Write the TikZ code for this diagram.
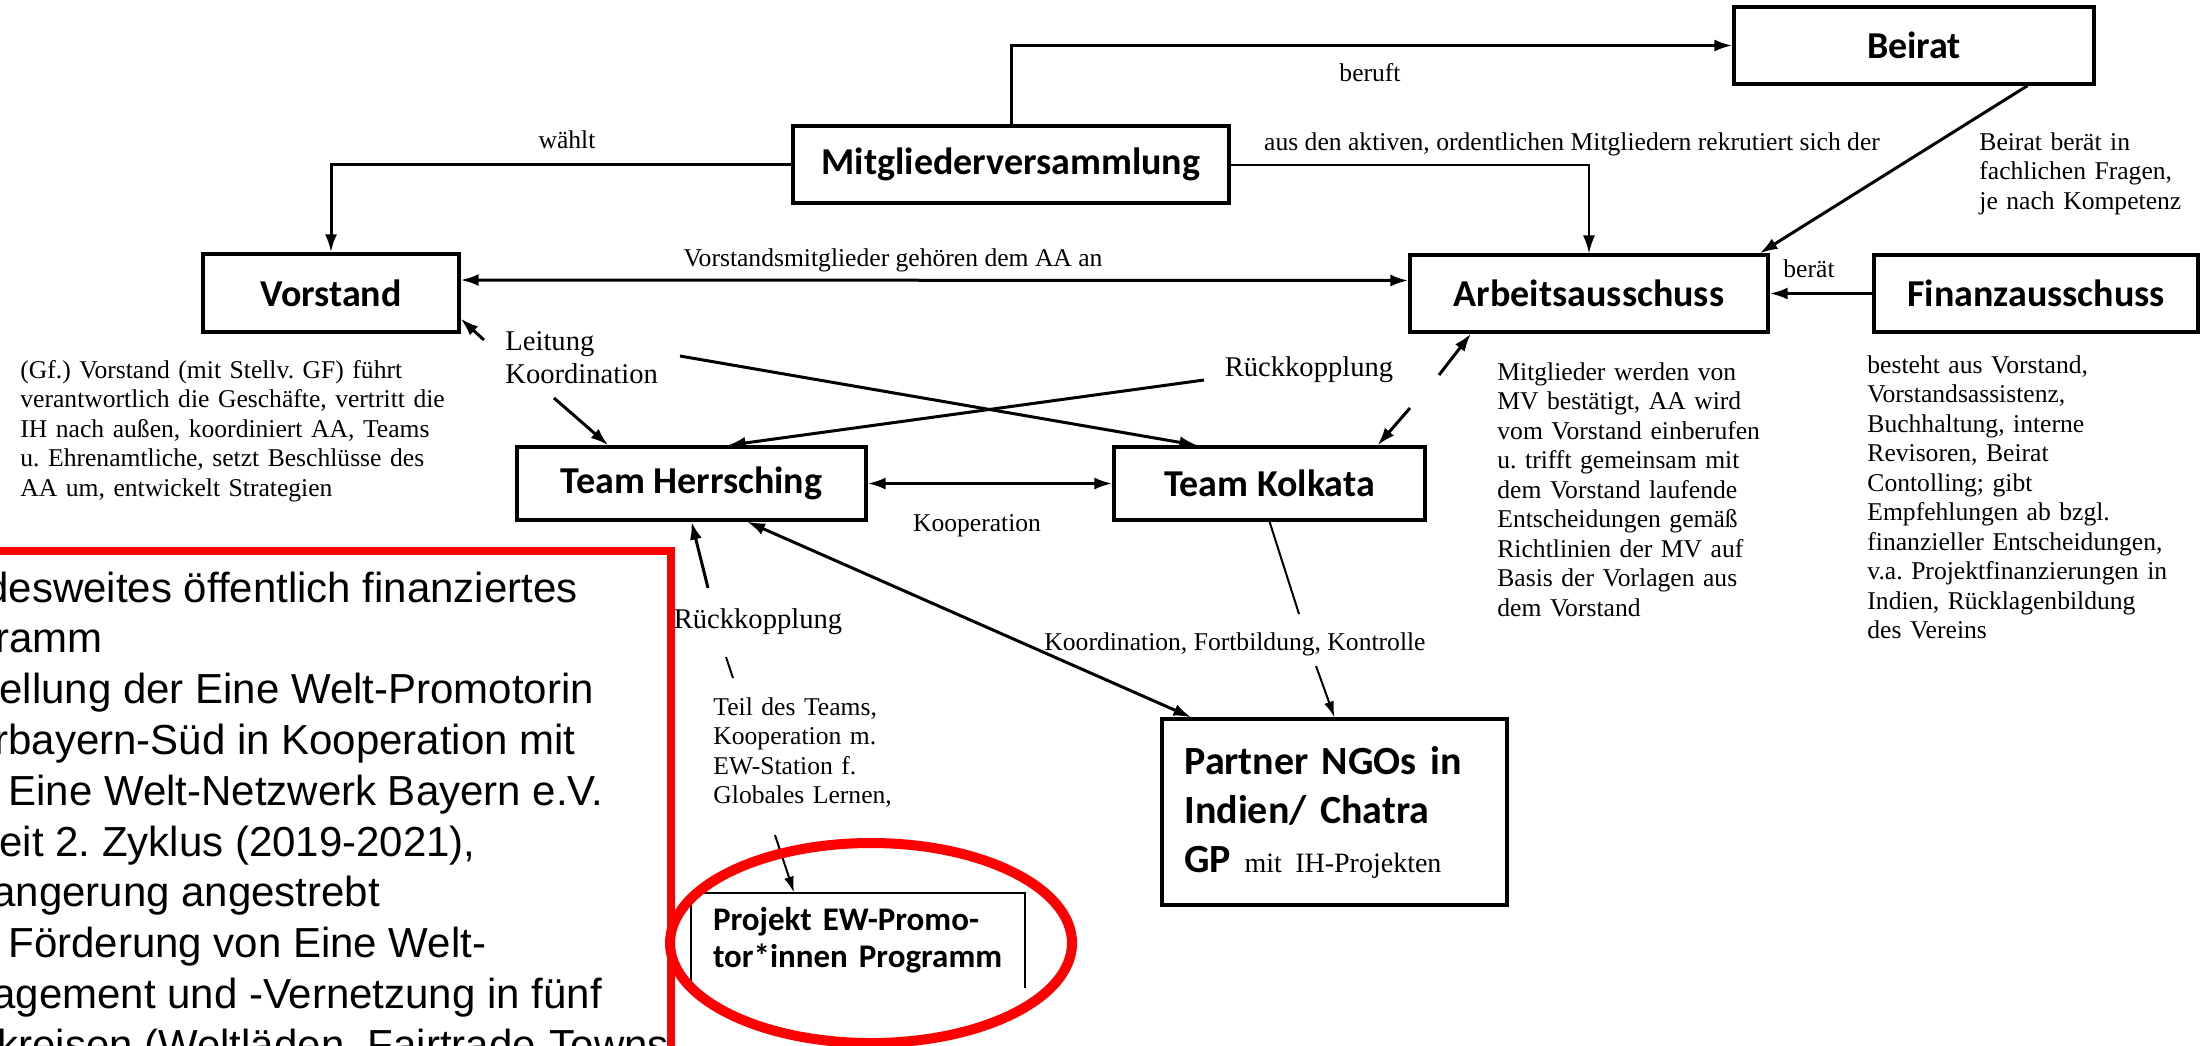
\documentclass[tikz,border=0pt]{standalone}
\usepackage{fontspec}
\setmainfont{Liberation Serif}
\newfontfamily\boxfont{Carlito}
\newfontfamily\redfont{Liberation Sans}
\usetikzlibrary{arrows.meta}

\tikzset{
  box/.style={draw, line width=1.6pt, inner sep=0pt, font=\boxfont\bfseries\fontsize{19}{22}\selectfont},
  lbl/.style={inner sep=0pt, anchor=base, font=\fontsize{12.8}{14.75}\selectfont},
  biglbl/.style={lbl, font=\fontsize{14.3}{16.5}\selectfont},
  desc/.style={inner sep=0pt, anchor=base west, align=left, text width=#1, font=\fontsize{12.8}{14.75}\selectfont},
  arr/.style={-{Latex[length=9pt,width=6pt]}, line width=1.5pt},
  dblarr/.style={{Latex[length=9pt,width=6pt]}-{Latex[length=9pt,width=6pt]}, line width=1.5pt},
  thinarr/.style={-{Latex[length=8pt,width=5pt]}, line width=1pt},
  redtxt/.style={inner sep=0pt, anchor=base west, font=\redfont\fontsize{21}{25.4}\selectfont}
}

\begin{document}
\frenchspacing
\begin{tikzpicture}[x=0.5pt,y=-0.5pt]
    \useasboundingbox (0,0) rectangle (2209,1045);

    % Boxes:
    % positions are the pixel centres of the boxes, sizes are in pt
    \node[box, minimum width=218pt, minimum height=38.5pt] (mv) at (1011,164.5) {Mitgliederversammlung};
    \node[box, minimum width=180pt, minimum height=38.5pt] (beirat) at (1914,45.5) {Beirat};
    \node[box, minimum width=128pt, minimum height=39pt] (vorstand) at (331,293) {Vorstand};
    \node[box, minimum width=179pt, minimum height=38.5pt] (aa) at (1589,293.5) {Arbeitsausschuss};
    \node[box, minimum width=162pt, minimum height=38.5pt] (fin) at (2036,293.5) {Finanzausschuss};
    \node[box, minimum width=174.5pt, minimum height=36.5pt] (th) at (691.5,483.5) {Team Herrsching};
    \node[box, minimum width=155.5pt, minimum height=36.5pt] (tk) at (1269.5,483.5) {Team Kolkata};
    \node[box, minimum width=172.5pt, minimum height=93pt, align=left, text width=150pt,
          font=\boxfont\bfseries\fontsize{20}{24.5}\selectfont] (ngo) at (1334.5,812)
          {Partner NGOs in\\Indien/ Chatra\\GP {\rmfamily\mdseries\fontsize{14}{16}\selectfont mit IH-Projekten}};
    % the project box is open at the bottom
    \node[inner sep=0pt, minimum width=167pt, minimum height=47.5pt, align=left, text width=145pt,
          font=\boxfont\bfseries\fontsize{16.5}{18.5}\selectfont] (proj) at (858,940.5)
          {Projekt EW-Promo-\\tor*innen Programm};
    \draw[line width=1pt] (proj.south west) |- (proj.north) -| (proj.south east);

    % Labels:
    \node[lbl] (waehlt) at (567,148) {wählt};
    \node[lbl] (beruft) at (1370,81) {beruft};
    \node[lbl] (rekrut) at (1572,150) {aus den aktiven, ordentlichen Mitgliedern rekrutiert sich der};
    \node[lbl] (gehoert) at (893,266) {Vorstandsmitglieder gehören dem AA an};
    \node[lbl] (beraet) at (1809,277) {berät};
    \node[biglbl] (rueck) at (1309,376) {Rückkopplung};
    \node[lbl] (koop) at (977,531) {Kooperation};
    \node[biglbl] (rueckb) at (758,628) {Rückkopplung};
    \node[lbl] (kfk) at (1235,650) {Koordination, Fortbildung, Kontrolle};
    \node[desc=90pt, font=\fontsize{14.3}{16.5}\selectfont] (leit) at (505,350) {Leitung\\Koordination};
    \node[desc=112pt] (beiratinfo) at (1979,150) {Beirat berät in\\fachlichen Fragen,\\je nach Kompetenz};
    \node[desc=235pt] (vinfo) at (20,378) {(Gf.) Vorstand (mit Stellv. GF) führt\\verantwortlich die Geschäfte, vertritt die\\IH nach außen, koordiniert AA, Teams\\u. Ehrenamtliche, setzt Beschlüsse des\\AA um, entwickelt Strategien};
    \node[desc=160pt] (aainfo) at (1497,380) {Mitglieder werden von\\MV bestätigt, AA wird\\vom Vorstand einberufen\\u. trifft gemeinsam mit\\dem Vorstand laufende\\Entscheidungen gemäß\\Richtlinien der MV auf\\Basis der Vorlagen aus\\dem Vorstand};
    \node[desc=170pt] (fininfo) at (1867,373) {besteht aus Vorstand,\\Vorstandsassistenz,\\Buchhaltung, interne\\Revisoren, Beirat\\Contolling; gibt\\Empfehlungen ab bzgl.\\finanzieller Entscheidungen,\\v.a. Projektfinanzierungen in\\Indien, Rücklagenbildung\\des Vereins};
    \node[desc=110pt] (teil) at (713,715) {Teil des Teams,\\Kooperation m.\\EW-Station f.\\Globales Lernen,};

    % Free ends of the connectors:
    \coordinate (lk) at (680,356);
    \coordinate (rk) at (1204,380);
    \coordinate (lh) at (554,398);
    \coordinate (ak) at (1410,408);
    \coordinate (ka) at (1439,375);
    \coordinate (lv) at (484,340);
    \coordinate (rh) at (708,588);
    \coordinate (kend) at (1299,614);
    \coordinate (kn) at (1316,666);
    \coordinate (ta) at (726,657);
    \coordinate (tb) at (733,678);
    \coordinate (tp) at (775,835);

    % Connectors:
    \draw[arr] (mv.west) -| (vorstand.north);
    \draw[arr] (mv.north) |- (beirat.west);
    \draw[arr, line width=1pt] (mv.east) -| (aa.north);
    \draw[dblarr] ([yshift=6.5pt]vorstand.east) -- ([yshift=6.5pt]aa.west);
    \draw[arr] ([xshift=-34pt]beirat.south east) -- ([xshift=-5pt]aa.north east);
    \draw[arr] (fin.west) -- (aa.east);
    \draw[dblarr] (th.east) -- (tk.west);
    \draw[arr] (lk) -- ([xshift=-36pt]tk.north);
    \draw[arr] (rk) -- ([xshift=18pt]th.north);
    \draw[arr] (lh) -- ([xshift=46.5pt]th.north west);
    \draw[arr] (ak) -- ([xshift=54pt]tk.north);
    \draw[arr] (ka) -- ([xshift=-59pt]aa.south);
    \draw[arr] (lv) -- ([yshift=7.5pt]vorstand.south east);
    \draw[arr] (rh) -- (th.south);
    \draw[dblarr] ([xshift=27.75pt]th.south) -- ([xshift=15.5pt]ngo.north west);
    \draw[line width=1pt] (tk.south) -- (kend);
    \draw[thinarr] (kn) -- (ngo.north);
    \draw[line width=1pt] (ta) -- (tb);
    \draw[thinarr] (tp) -- ([xshift=-32pt]proj.north);

    % Red overlay (cut by the page edge):
    \begin{scope}
        \clip (0,0) rectangle (2209,1045);
        \draw[red, line width=4pt] (-20,551) rectangle (671,1100);
        \draw[red, line width=5pt] (871,943) ellipse [x radius=100.5pt, y radius=50pt];
        \foreach \dx/\txt [count=\i from 0] in {
            -15/desweites öffentlich finanziertes,
            -5/ramm,
            -1/ellung der Eine Welt-Promotorin,
            -6/rbayern-Süd in Kooperation mit,
            8/Eine Welt-Netzwerk Bayern e.V.,
            -1/{eit 2. Zyklus (2019-2021),},
            -8/angerung angestrebt,
            8/Förderung von Eine Welt-,
            -8/agement und -Vernetzung in fünf,
            -3/{kreisen (Weltläden, Fairtrade-Towns}}
            \node[redtxt] (red\i) at (\dx,602+50.8*\i) {\txt};
    \end{scope}
\end{tikzpicture}
\end{document}
